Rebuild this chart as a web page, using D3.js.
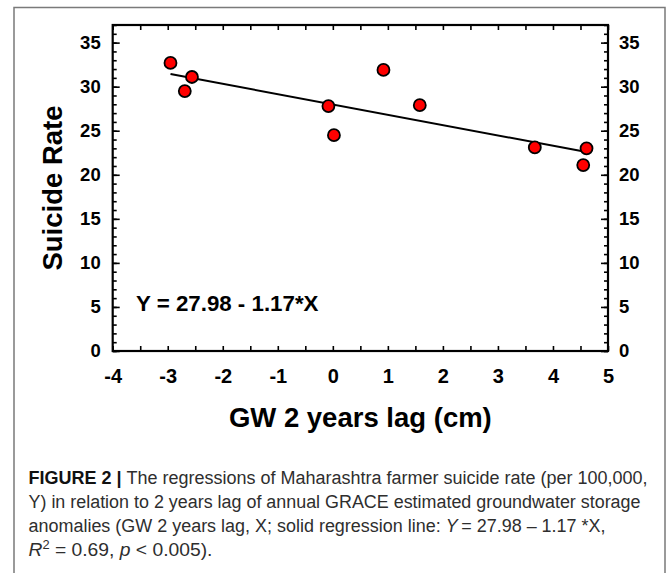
<!DOCTYPE html>
<html>
<head>
<meta charset="utf-8">
<script src="https://cdn.jsdelivr.net/npm/d3@7"></script>
<style>
  body { margin: 0; background: #fff; }
  svg { display: block; }
</style>
</head>
<body>
<svg id="chart" width="669" height="573"></svg>
<script>
// --- data -----------------------------------------------------------------
const gwLag       = [-2.95, -2.69, -2.56, -0.08, 0.02, 0.92, 1.58, 3.67, 4.61, 4.55];
const suicideRate = [32.7, 29.5, 31.1, 27.8, 24.5, 31.9, 27.9, 23.1, 23.0, 21.1];
const intercept = 27.98;
const slope     = -1.17;

const xTickLabels = [-4, -3, -2, -1, 0, 1, 2, 3, 4, 5];
const yTickLabels = [0, 5, 10, 15, 20, 25, 30, 35];

const equationText = "Y = 27.98 - 1.17*X";
const xTitle = "GW 2 years lag (cm)";
const yTitle = "Suicide Rate";

// --- layout ----------------------------------------------------------------
const plot = { left: 112.7, right: 608, top: 25, bottom: 351 };
const boldFont = "'Liberation Sans', Arial, sans-serif";

const svg = d3.select("#chart");

const x = d3.scaleLinear().domain([-4, 5]).range([plot.left, plot.right]);
const y = d3.scaleLinear().domain([0, 37]).range([plot.bottom, plot.top]);

// outer figure frame (grey)
svg.append("path")
  .attr("d", "M14,580 V7.5 H665 V580")
  .attr("fill", "none")
  .attr("stroke", "#7a7a7a")
  .attr("stroke-width", 1.5);

// --- axes (ticks inside, labels outside) -----------------------------------
const xTicksAll = d3.range(-4, 5.01, 0.5);
const yMinor    = d3.range(0, 37.01, 1);

function styleAxis(g) {
  g.select(".domain").remove();
  g.selectAll("line").attr("stroke", "#000").attr("stroke-width", 1.6);
  g.selectAll("text")
    .attr("fill", "#000")
    .attr("font-family", boldFont)
    .attr("font-weight", "bold");
}

// bottom
svg.append("g")
  .attr("transform", `translate(0,${plot.bottom})`)
  .call(d3.axisBottom(x).tickValues(xTicksAll).tickSize(-5).tickPadding(18)
    .tickFormat(d => xTickLabels.includes(d) ? String(d) : ""))
  .call(styleAxis)
  .call(g => g.selectAll("text").attr("font-size", 20));

// top
svg.append("g")
  .attr("transform", `translate(0,${plot.top})`)
  .call(d3.axisTop(x).tickValues(xTicksAll).tickSize(-5).tickFormat(""))
  .call(styleAxis);

// left minor + major
svg.append("g")
  .attr("transform", `translate(${plot.left},0)`)
  .call(d3.axisLeft(y).tickValues(yMinor).tickSize(-4).tickFormat(""))
  .call(styleAxis);
svg.append("g")
  .attr("transform", `translate(${plot.left},0)`)
  .call(d3.axisLeft(y).tickValues(yTickLabels).tickSize(-7).tickPadding(12).tickFormat(d3.format("d")))
  .call(styleAxis)
  .call(g => g.selectAll("text").attr("font-size", 18.5));

// right minor + major
svg.append("g")
  .attr("transform", `translate(${plot.right},0)`)
  .call(d3.axisRight(y).tickValues(yMinor).tickSize(-4).tickFormat(""))
  .call(styleAxis);
svg.append("g")
  .attr("transform", `translate(${plot.right},0)`)
  .call(d3.axisRight(y).tickValues(yTickLabels).tickSize(-7).tickPadding(11).tickFormat(d3.format("d")))
  .call(styleAxis)
  .call(g => g.selectAll("text").attr("font-size", 18.5));

// plot frame
svg.append("rect")
  .attr("x", plot.left)
  .attr("y", plot.top)
  .attr("width", plot.right - plot.left)
  .attr("height", plot.bottom - plot.top)
  .attr("fill", "none")
  .attr("stroke", "#000")
  .attr("stroke-width", 2.2);

// --- regression line -------------------------------------------------------
const [xMin, xMax] = d3.extent(gwLag);
svg.append("path")
  .datum([xMin, xMax])
  .attr("d", d3.line().x(d => x(d)).y(d => y(intercept + slope * d)))
  .attr("fill", "none")
  .attr("stroke", "#000")
  .attr("stroke-width", 2);

// --- points ----------------------------------------------------------------
svg.append("g")
  .selectAll("circle")
  .data(d3.zip(gwLag, suicideRate))
  .join("circle")
    .attr("cx", d => x(d[0]))
    .attr("cy", d => y(d[1]))
    .attr("r", 6)
    .attr("fill", "#ff0000")
    .attr("stroke", "#000")
    .attr("stroke-width", 1.8);

// --- equation & axis titles ------------------------------------------------
svg.append("text")
  .attr("x", 136)
  .attr("y", 310.5)
  .attr("font-family", boldFont)
  .attr("font-weight", "bold")
  .attr("font-size", 22.3)
  .text(equationText);

svg.append("text")
  .attr("x", (plot.left + plot.right) / 2)
  .attr("y", 427)
  .attr("text-anchor", "middle")
  .attr("font-family", boldFont)
  .attr("font-weight", "bold")
  .attr("font-size", 27.5)
  .text(xTitle);

svg.append("text")
  .attr("transform", `translate(61.5,${(plot.top + plot.bottom) / 2}) rotate(-90)`)
  .attr("text-anchor", "middle")
  .attr("font-family", boldFont)
  .attr("font-weight", "bold")
  .attr("font-size", 27.5)
  .text(yTitle);

// --- caption ---------------------------------------------------------------
const captionLines = [
  { width: 619, parts: [
    { t: "FIGURE 2 | ", b: true },
    { t: "The regressions of Maharashtra farmer suicide rate (per 100,000," } ] },
  { width: 612, parts: [
    { t: "Y) in relation to 2 years lag of annual GRACE estimated groundwater storage" } ] },
  { width: 577, parts: [
    { t: "anomalies (GW 2 years lag, X; solid regression line: " },
    { t: "Y", i: true },
    { t: "\u2009= 27.98 \u2013 1.17 *X," } ] },
  { width: 184, parts: [
    { t: "R", i: true },
    { t: "2", sup: true },
    { t: " = 0.69, " },
    { t: "p", i: true },
    { t: " < 0.005)." } ] }
];

const caption = svg.append("g")
  .attr("font-family", "'Liberation Sans Narrow', 'Liberation Sans', Arial, sans-serif")
  .attr("font-size", 18)
  .attr("fill", "#2e2e2e");

captionLines.forEach((line, i) => {
  const t = caption.append("text")
    .attr("x", 28.5)
    .attr("y", 484 + i * 24)
    .attr("textLength", line.width)
    .attr("lengthAdjust", "spacingAndGlyphs");
  line.parts.forEach(p => {
    const s = t.append("tspan").text(p.t);
    if (p.b) s.attr("font-weight", "bold").attr("fill", "#111");
    if (p.i) s.attr("font-style", "italic");
    if (p.sup) s.attr("font-size", 12).attr("baseline-shift", "super");
  });
});
</script>
</body>
</html>
